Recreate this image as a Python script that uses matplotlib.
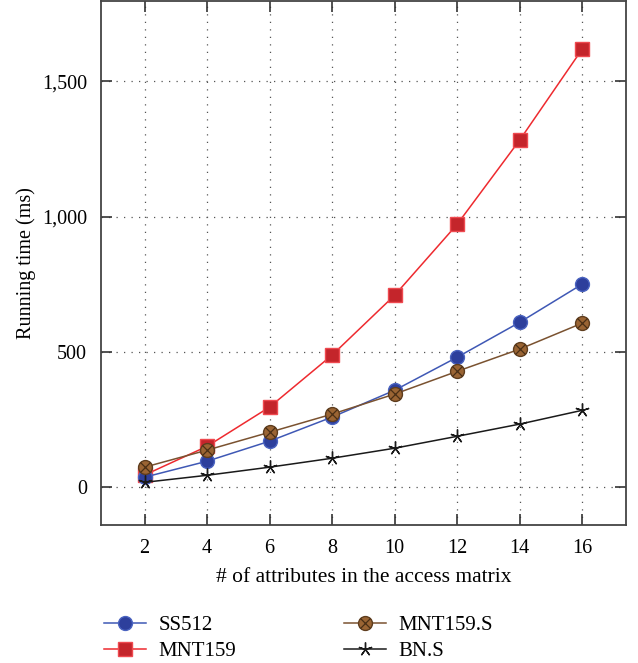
import matplotlib
matplotlib.use("Agg")
import matplotlib.pyplot as plt
from matplotlib.ticker import FuncFormatter
from matplotlib.legend_handler import HandlerTuple

plt.rcParams['font.family'] = ['Liberation Serif', 'DejaVu Serif']

attrs = [2, 4, 6, 8, 10, 12, 14, 16]
ss512 = [37, 96, 170, 259, 358, 480, 609, 750]
mnt159 = [45, 151, 296, 488, 709, 971, 1282, 1618]
mnt159_s = [74, 137, 203, 270, 344, 428, 510, 606]
bn_s = [18, 44, 74, 107, 144, 188, 233, 284]

fig = plt.figure(figsize=(6.38, 6.63), dpi=100)
ax = fig.add_axes([0.158, 0.208, 0.823, 0.790])

l1, = ax.plot(attrs, ss512, color="#3f58b5", lw=1.1, marker="o", ms=10,
              mfc="#2d3f9c", mec="#4a63c0", zorder=4)
l2, = ax.plot(attrs, mnt159, color="#ee2a2f", lw=1.1, marker="s", ms=10,
              mfc="#c4252b", mec="#ef4a50", zorder=3)
l3a, = ax.plot(attrs, mnt159_s, color="#7a5230", lw=1.1, marker="o", ms=10,
               mfc="#9a6433", mec="#5e3d1e", zorder=5)
l3b, = ax.plot(attrs, mnt159_s, ls="none", marker="x", ms=6.5, mew=0.9,
               color="#4a2f15", zorder=6)
l4, = ax.plot(attrs, bn_s, color="#1a1a1a", lw=1.1, marker=(5, 2, 0), ms=10,
              mew=1.0, zorder=7)

ax.set_xlim(0.6, 17.4)
ax.set_ylim(-140, 1795)
ax.set_xticks(attrs)
ax.set_yticks([0, 500, 1000, 1500])
ax.yaxis.set_major_formatter(FuncFormatter(lambda v, p: f"{int(v):,}"))
ax.grid(True, ls=(0, (1, 5)), color="#555555", lw=0.9)
ax.tick_params(direction="in", length=8, width=1.2, color="#333333",
               top=True, right=True, labelsize=14.5, pad=10)
for s in ax.spines.values():
    s.set_color("#444444")
    s.set_linewidth(1.3)

ax.set_xlabel("# of attributes in the access matrix", fontsize=15.5, labelpad=7)
ax.set_ylabel("Running time (ms)", fontsize=14.5, labelpad=4)

fig.legend([l1, l2, (l3a, l3b), l4], ["SS512", "MNT159", "MNT159.S", "BN.S"],
           handler_map={tuple: HandlerTuple(ndivide=1)},
           loc="lower left", bbox_to_anchor=(0.134, -0.025), ncol=2,
           frameon=False, fontsize=15, columnspacing=5.2, handlelength=2.0,
           handletextpad=0.6, labelspacing=0.3)

fig.savefig("out.png", dpi=100)
